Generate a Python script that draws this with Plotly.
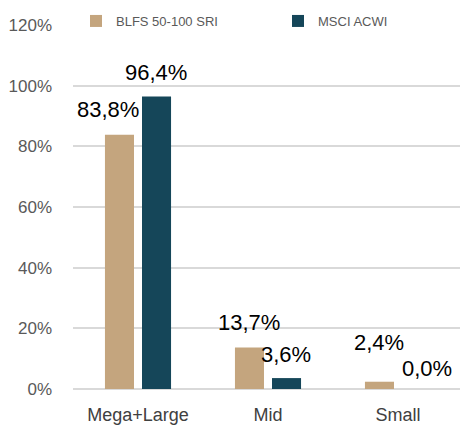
import plotly.graph_objects as go

categories = ["Mega+Large", "Mid", "Small"]
blfs_values = [83.8, 13.7, 2.4]
msci_values = [96.4, 3.6, 0.0]
series_names = ["BLFS 50-100 SRI", "MSCI ACWI"]
y_tick_values = [0, 20, 40, 60, 80, 100, 120]
y_tick_labels = ["0%", "20%", "40%", "60%", "80%", "100%", "120%"]

colors = ["#C4A57E", "#154659"]
W, H = 460, 426
PL, PT, PB = 73, 25, 37

fig = go.Figure()
legend_ids = ["legend", "legend2"]
for name, vals, col, lid in zip(series_names, [blfs_values, msci_values], colors, legend_ids):
    fig.add_trace(go.Bar(x=categories, y=vals, name=name, legend=lid, showlegend=True,
                         marker=dict(color=col, line=dict(width=0))))

def fmt(v):
    return ("%.1f%%" % v).replace(".", ",")

# label offsets (px) mimicking the reference placement
blfs_shift = [(-30, 25), (-19, 25), (-19, 39)]
msci_shift = [(18, 24), (18, 24), (29, 21)]
for vals, shifts in [(blfs_values, blfs_shift), (msci_values, msci_shift)]:
    for c, v, (dx, dy) in zip(categories, vals, shifts):
        fig.add_annotation(x=c, y=v, text=fmt(v), showarrow=False, xshift=dx, yshift=dy,
                           xanchor="center", yanchor="middle",
                           font=dict(size=22, color="#000000", family="Liberation Sans, Arial"))

leg_common = dict(orientation="h", xanchor="left", y=1 - 21 / H, yanchor="middle",
                  font=dict(size=13, color="#595959"), bgcolor="rgba(0,0,0,0)",
                  borderwidth=0, visible=True)

fig.update_layout(
    width=W, height=H, showlegend=True,
    margin=dict(l=0, r=0, t=0, b=0, autoexpand=False),
    paper_bgcolor="white", plot_bgcolor="white",
    barmode="group", bargap=0.43, bargroupgap=0.216,
    font=dict(family="Liberation Sans, Arial", color="#595959"),
    legend=dict(x=76 / W, **leg_common),
    legend2=dict(x=278 / W, **leg_common),
    xaxis=dict(domain=[PL / W, 1], range=[-0.5, 2.477], showgrid=False, showline=False,
               ticks="", automargin=False, ticklabelstandoff=13,
               tickfont=dict(size=18, color="#404040")),
    yaxis=dict(domain=[PB / H, 1 - PT / H], range=[0, 120], tickvals=y_tick_values,
               ticktext=y_tick_labels, automargin=False,
               showgrid=True, gridcolor="#D9D9D9", gridwidth=1.5,
               zeroline=True, zerolinecolor="#D9D9D9", zerolinewidth=1.5,
               showline=False, ticks="", ticklabelstandoff=20,
               tickfont=dict(size=17, color="#595959")),
)

fig.write_html("out.html", config={"displayModeBar": False},
               post_script="document.body.style.margin='0px';")
